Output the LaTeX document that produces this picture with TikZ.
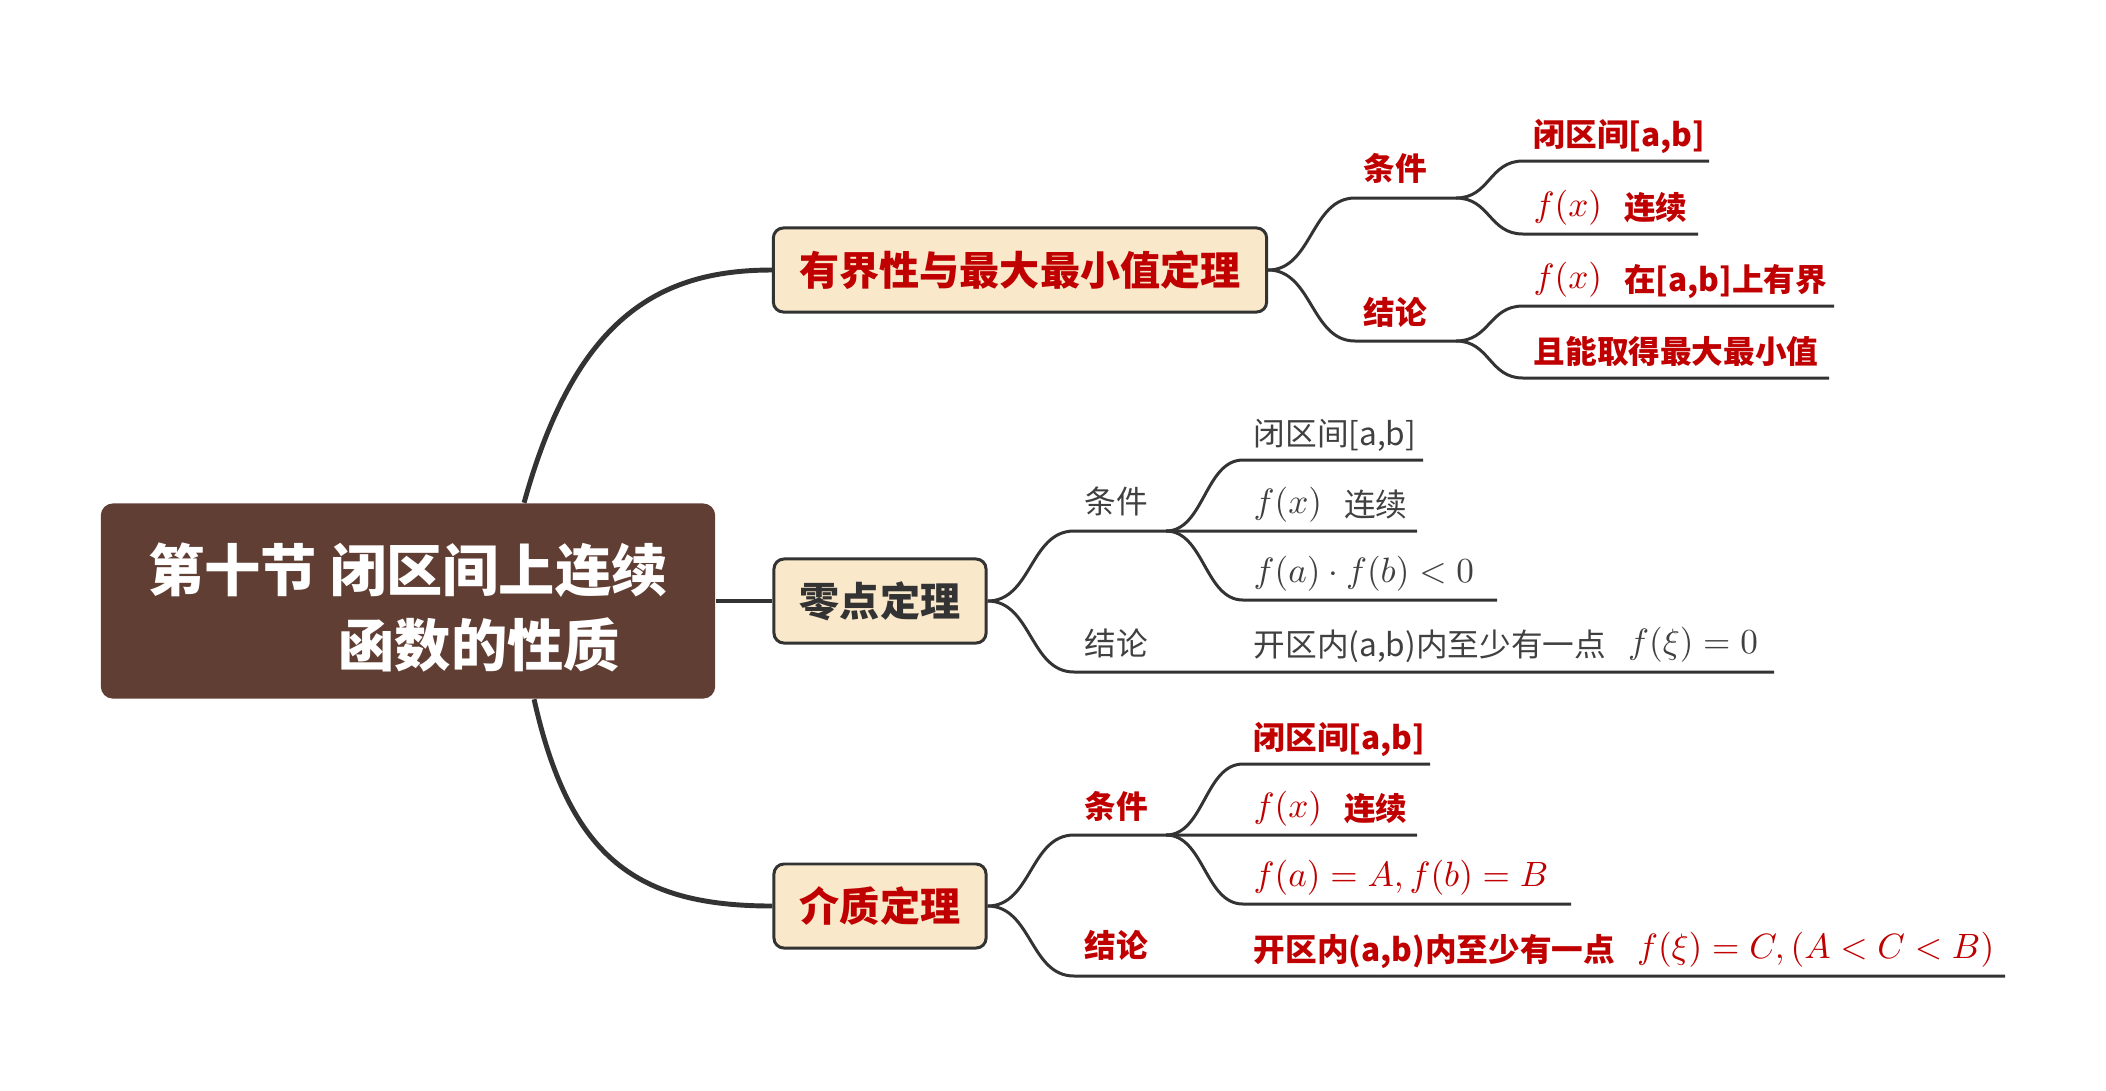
\documentclass[tikz,border=0pt]{standalone}
\usepackage{fontspec}
\setmainfont{Noto Sans CJK SC}
\usepackage{tikz}

\definecolor{rootbrown}{HTML}{613E33}
\definecolor{topicfill}{HTML}{FAE8CB}
\definecolor{linegray}{HTML}{333333}
\definecolor{textred}{HTML}{C00000}
\definecolor{textgray}{HTML}{404040}
\newcommand{\mth}[1]{\raisebox{0.03cm}{\fontsize{10}{12}\selectfont$#1$}}

\begin{document}
\begin{tikzpicture}
        [
            x = 0.01cm, y = -0.01cm,
            every node/.append style = {inner sep = 0pt, font = \fontsize{9}{10}\selectfont},
            rootbox/.style = {fill = rootbrown, rounded corners = 0.12cm, minimum width = 6.14cm, minimum height = 1.95cm,
                text = white, align = left, font = \fontsize{16}{21.3}\selectfont\bfseries},
            topic/.style = {draw = linegray, line width = 0.85pt, fill = topicfill, rounded corners = 0.1cm,
                minimum height = 0.84cm, font = \fontsize{11.4}{13}\selectfont\bfseries},
            trunk/.style = {draw = linegray, line width = 1.4pt},
            twig/.style = {draw = linegray, line width = 0.85pt},
            redtext/.style = {text = textred, font = \fontsize{9}{10}\selectfont\bfseries},
            graytext/.style = {text = textgray},
            tag/.style = {anchor = base},
            leaf/.style = {anchor = base west}]
        \useasboundingbox (0,0) rectangle (2106,1090);

        % main topics
        \node[rootbox] (root) at (408,601) {\rule{0pt}{0.62cm}第十节 闭区间上连续\\\hspace*{1.9cm}函数的性质};
        \node[topic, text = textred, minimum width = 4.93cm] (bound) at (1020,270) {有界性与最大最小值定理};
        \node[topic, text = linegray, minimum width = 2.12cm] (zero) at (880,601) {零点定理};
        \node[topic, text = textred, minimum width = 2.12cm] (ivt) at (880,906) {介质定理};

        \draw[trunk] ([xshift = 1.16cm]root.north) .. controls +(51,-184) and +(-114,0) .. (bound.west);
        \draw[trunk] (root.east) -- (zero.west);
        \draw[trunk] ([xshift = 1.26cm]root.south) .. controls +(36,161) and +(-134,0) .. (ivt.west);

        % bound
        \coordinate (bk) at (1355,198);
        \coordinate (bks) at (1456,198);
        \coordinate (bj) at (1355,341);
        \coordinate (bjs) at (1456,341);
        \node[redtext, tag] (bcond) at (1395,180) {条件};
        \node[redtext, tag] (bconc) at (1395,324) {结论};
        \node[redtext, leaf] (b1) at (1533,146) {闭区间[a,b]};
        \node[redtext, leaf] (b2) at (1533,219) {\mth{f(x)}\hspace{0.22cm}连续};
        \node[redtext, leaf] (b3) at (1533,291) {\mth{f(x)}\hspace{0.22cm}在[a,b]上有界};
        \node[redtext, leaf] (b4) at (1533,363) {且能取得最大最小值};
        \coordinate (b1e) at (1709,161);
        \coordinate (b2e) at (1698,234);
        \coordinate (b3e) at (1834,306);
        \coordinate (b4e) at (1829,378);
        \draw[twig] (bound.east) .. controls +(44,0) and +(-44,0) .. (bk) -- (bks);
        \draw[twig] (bound.east) .. controls +(44,0) and +(-44,0) .. (bj) -- (bjs);
        \draw[twig] (bks) .. controls +(34,0) and +(-34,0) .. (1523,161) -- (b1e);
        \draw[twig] (bks) .. controls +(34,0) and +(-34,0) .. (1523,234) -- (b2e);
        \draw[twig] (bjs) .. controls +(34,0) and +(-34,0) .. (1523,306) -- (b3e);
        \draw[twig] (bjs) .. controls +(34,0) and +(-34,0) .. (1523,378) -- (b4e);

        % zero
        \coordinate (zk) at (1074,531);
        \coordinate (zks) at (1166,531);
        \node[graytext, tag] (zcond) at (1116,513) {条件};
        \node[graytext, tag] (zconc) at (1116,655) {结论};
        \node[graytext, leaf] (z1) at (1253,445) {闭区间[a,b]};
        \node[graytext, leaf] (z2) at (1253,516) {\mth{f(x)}\hspace{0.22cm}连续};
        \node[graytext, leaf] (z3) at (1253,585) {\mth{f(a)\cdot f(b)<0}};
        \node[graytext, leaf] (z4) at (1253,656) {开区内(a,b)内至少有一点\hspace{0.22cm}\mth{f(\xi)=0}};
        \coordinate (z1e) at (1423,460);
        \coordinate (z2e) at (1417,531);
        \coordinate (z3e) at (1497,600);
        \coordinate (z4e) at (1774,672);
        \draw[twig] (zero.east) .. controls +(44,0) and +(-44,0) .. (zk) -- (z2e);
        \draw[twig] (zero.east) .. controls +(44,0) and +(-44,0) .. (1074,672) -- (z4e);
        \draw[twig] (zks) .. controls +(38,0) and +(-38,0) .. (1243,460) -- (z1e);
        \draw[twig] (zks) .. controls +(38,0) and +(-38,0) .. (1243,600) -- (z3e);

        % ivt
        \coordinate (ik) at (1074,835);
        \coordinate (iks) at (1166,835);
        \node[redtext, tag] (icond) at (1116,818) {条件};
        \node[redtext, tag] (iconc) at (1116,957) {结论};
        \node[redtext, leaf] (i1) at (1253,749) {闭区间[a,b]};
        \node[redtext, leaf] (i2) at (1253,820) {\mth{f(x)}\hspace{0.22cm}连续};
        \node[redtext, leaf] (i3) at (1253,889) {\mth{f(a)=A,f(b)=B}};
        \node[redtext, leaf] (i4) at (1253,961) {开区内(a,b)内至少有一点\hspace{0.22cm}\mth{f(\xi)=C,(A<C<B)}};
        \coordinate (i1e) at (1430,764);
        \coordinate (i2e) at (1417,835);
        \coordinate (i3e) at (1571,904);
        \coordinate (i4e) at (2005,976);
        \draw[twig] (ivt.east) .. controls +(44,0) and +(-44,0) .. (ik) -- (i2e);
        \draw[twig] (ivt.east) .. controls +(44,0) and +(-44,0) .. (1074,976) -- (i4e);
        \draw[twig] (iks) .. controls +(38,0) and +(-38,0) .. (1243,764) -- (i1e);
        \draw[twig] (iks) .. controls +(38,0) and +(-38,0) .. (1243,904) -- (i3e);
    \end{tikzpicture}
\end{document}
